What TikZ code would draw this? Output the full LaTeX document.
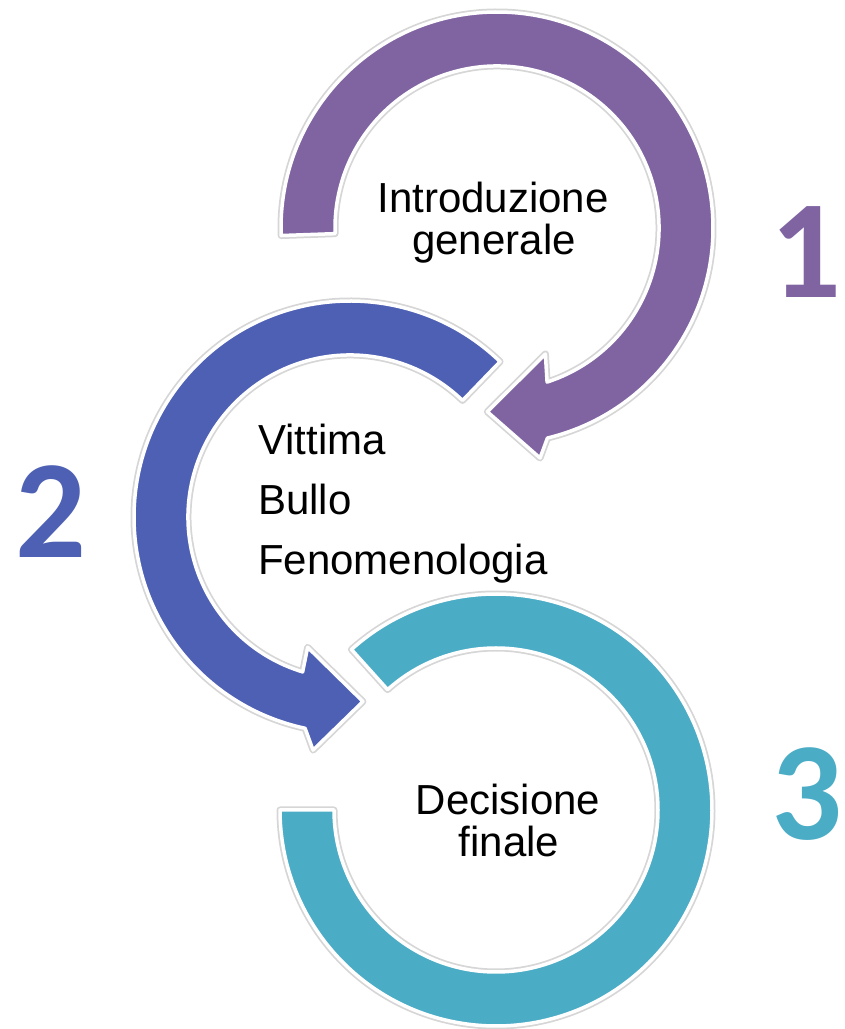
\documentclass[tikz,border=0pt]{standalone}
\usepackage{fontspec}
\setmainfont{Liberation Sans}
\newfontfamily\numfont{Carlito}
\usepackage{tikz}
\usetikzlibrary{positioning}
\definecolor{ringone}{RGB}{128,100,162}
\definecolor{ringtwo}{RGB}{78,96,180}
\definecolor{ringthree}{RGB}{75,172,198}
\pgfdeclarelayer{nodelayer}
\pgfsetlayers{main,nodelayer}

\begin{document}
\begin{tikzpicture}[x=1pt, y=1pt,
  ring/.style={draw=white, line width=3.5pt, line join=round,
    preaction={draw=black!16, line width=7pt, line join=round}},
  itemtext/.style={font=\fontsize{42}{46}\selectfont, inner sep=0pt},
  digit/.style={font=\numfont\bfseries\fontsize{140}{140}\selectfont, inner sep=0pt, anchor=base}]
  \useasboundingbox (0,0) rectangle (845,1029);
  % ring 1
  \begin{scope}[shift={(497,801)}]
    \path [ring, fill=ringone] (182:216) arc [start angle=182, end angle=-76.5, radius=216]
      -- (-79.4:234) -- (-93:184) -- (-69:135) -- (-72:162)
      arc [start angle=-72, end angle=182, radius=162] -- cycle;
  \end{scope}
  % ring 2
  \begin{scope}[shift={(350,512)}]
    \path [ring, fill=ringtwo] (46:216) arc [start angle=46, end angle=258, radius=216]
      -- (261:236) -- (274:185) -- (252:137) -- (253:162)
      arc [start angle=253, end angle=46, radius=162] -- cycle;
  \end{scope}
  % ring 3
  \begin{scope}[shift={(496,219)}]
    \path [ring, fill=ringthree] (132:216) arc [start angle=132, end angle=-180, radius=216]
      -- (180:162) arc [start angle=-180, end angle=132, radius=162] -- cycle;
  \end{scope}
  \begin{pgfonlayer}{nodelayer}
    \node [itemtext, anchor=base] (0) at (493, 816) {Introduzione};
    \node [itemtext, anchor=base] (1) at (494, 774) {generale};
    \node [itemtext, anchor=base west] (2) at (258, 574) {Vittima};
    \node [itemtext, anchor=base west] (3) at (258, 514) {Bullo};
    \node [itemtext, anchor=base west] (4) at (258, 454) {Fenomenologia};
    \node [itemtext, anchor=base] (5) at (508, 214) {Decisione};
    \node [itemtext, anchor=base] (6) at (509, 172) {finale};
    \node [digit, text=ringone] (7) at (806, 731) {1};
    \node [digit, text=ringtwo] (8) at (51, 471) {2};
    \node [digit, text=ringthree] (9) at (807, 189) {3};
  \end{pgfonlayer}
\end{tikzpicture}
\end{document}
